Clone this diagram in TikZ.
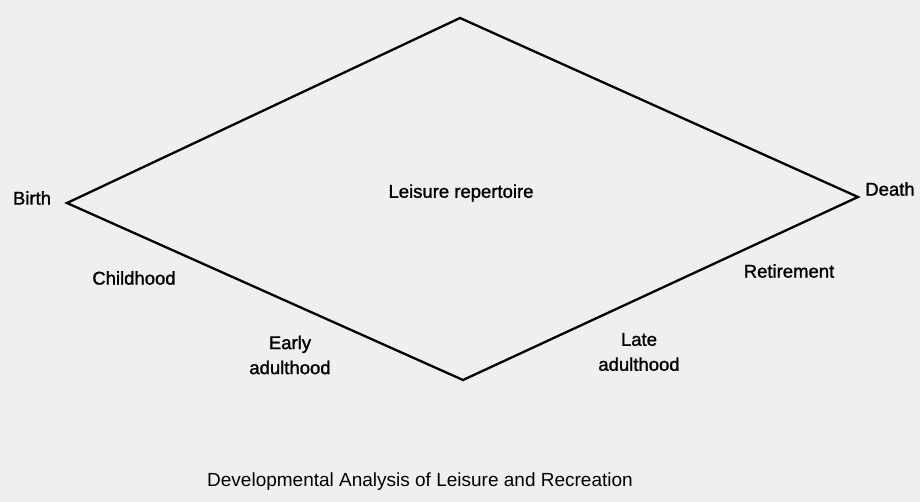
\documentclass[tikz,border=0pt]{standalone}
\usepackage{fontspec}
\newfontfamily\lab[FakeBold=1.3]{Liberation Sans}
\newfontfamily\captionfnt{Liberation Sans}
\definecolor{paper}{RGB}{238,239,241}
\begin{document}
\begin{tikzpicture}[x=1pt,y=-1pt,
  lbl/.style={font=\lab\fontsize{18.5}{25}\selectfont, inner sep=0pt, align=center},
  edge/.style={line width=2.3pt, line join=miter, black}]
\fill[paper] (0,0) rectangle (920,502);
\useasboundingbox (0,0) rectangle (920,502);
\coordinate (birthpt) at (67,203);
\coordinate (top) at (460,18);
\coordinate (deathpt) at (858,197);
\coordinate (bottom) at (463,380);
\draw[edge] (birthpt) -- (top) -- (deathpt) -- (bottom) -- cycle;
\node[lbl] (birth) at (32,198) {Birth};
\node[lbl] (death) at (890,189) {Death};
\node[lbl] (leisure) at (461,193) {Leisure repertoire};
\node[lbl] (child) at (134,278) {Childhood};
\node[lbl] (retire) at (789,271) {Retirement};
\node[lbl] (early) at (290,355) {Early\\adulthood};
\node[lbl] (late) at (639,352) {Late\\adulthood};
\node[font=\captionfnt\fontsize{19}{22}\selectfont, inner sep=0pt] (caption) at (420,482) {Developmental Analysis of Leisure and Recreation};
\end{tikzpicture}
\end{document}
